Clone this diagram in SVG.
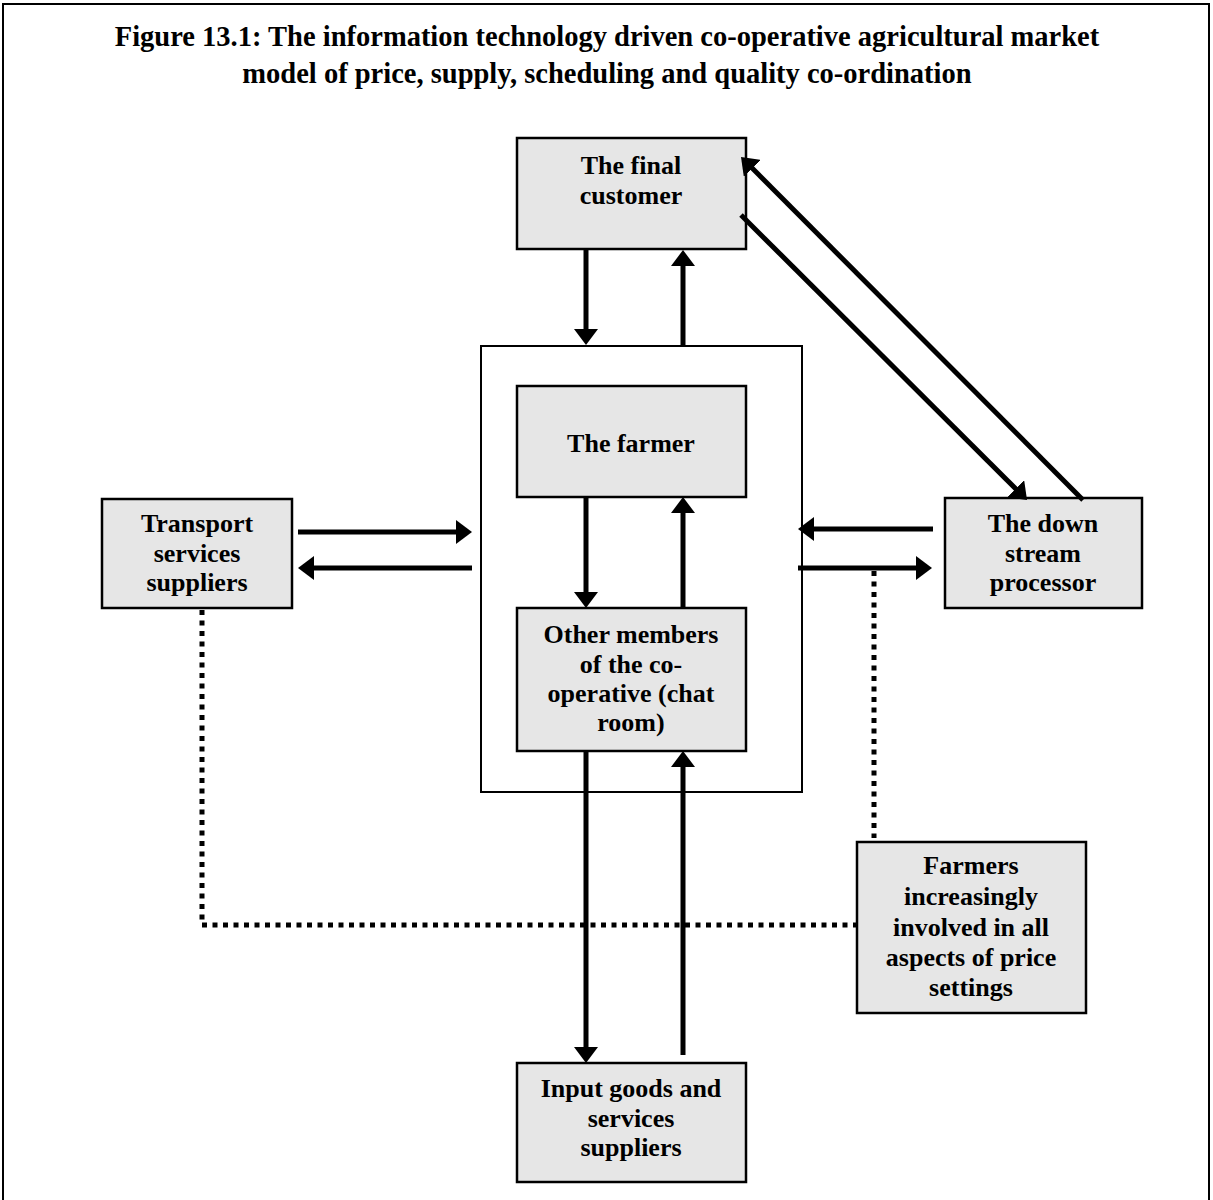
<svg xmlns="http://www.w3.org/2000/svg" width="1213" height="1200" viewBox="0 0 1213 1200">
  <style>
    .frame { fill: none; stroke: #000; stroke-width: 2; }
    .box { fill: #e6e6e6; stroke: #000; stroke-width: 2.5; }
    .lbl { font-family: "Liberation Serif", "Times New Roman", serif; font-weight: bold; font-size: 26px; fill: #000; text-anchor: middle; }
    .title { font-family: "Liberation Serif", "Times New Roman", serif; font-weight: bold; font-size: 28.5px; fill: #000; text-anchor: middle; }
    .arrow { stroke: #000; stroke-width: 5; fill: none; marker-end: url(#head); }
    .dots { stroke: #000; stroke-width: 5; fill: none; stroke-dasharray: 5 5.5; }
  </style>
  <defs>
    <marker id="head" markerUnits="userSpaceOnUse" viewBox="0 0 16 24" refX="1" refY="12" markerWidth="16" markerHeight="24" orient="auto">
      <path d="M0,0 L16,12 L0,24 Z" fill="#000"/>
    </marker>
  </defs>

  <rect width="1213" height="1200" fill="#fff"/>

  <!-- page border -->
  <path class="frame" d="M3,1200 V4 H1209 V1200" stroke-width="2.5"/>

  <!-- title -->
  <text class="title" x="607" y="46">Figure 13.1:  The information technology driven co-operative agricultural market</text>
  <text class="title" x="607" y="83">model of price, supply, scheduling and quality co-ordination</text>

  <!-- co-operative enclosure -->
  <rect id="cooperative" class="frame" x="481" y="346" width="321" height="446"/>

  <g id="final-customer">
    <rect class="box" x="517" y="138" width="229" height="111"/>
    <text class="lbl" x="631" y="174">The final</text>
    <text class="lbl" x="631" y="204">customer</text>
  </g>

  <g id="farmer">
    <rect class="box" x="517" y="386" width="229" height="111"/>
    <text class="lbl" x="631" y="452">The farmer</text>
  </g>

  <g id="other-members">
    <rect class="box" x="517" y="608" width="229" height="143"/>
    <text class="lbl" x="631" y="643">Other members</text>
    <text class="lbl" x="631" y="673">of the co-</text>
    <text class="lbl" x="631" y="702">operative (chat</text>
    <text class="lbl" x="631" y="731">room)</text>
  </g>

  <g id="input-suppliers">
    <rect class="box" x="517" y="1063" width="229" height="119"/>
    <text class="lbl" x="631" y="1097">Input goods and</text>
    <text class="lbl" x="631" y="1127">services</text>
    <text class="lbl" x="631" y="1156">suppliers</text>
  </g>

  <g id="transport">
    <rect class="box" x="102" y="499" width="190" height="109"/>
    <text class="lbl" x="197" y="532">Transport</text>
    <text class="lbl" x="197" y="562">services</text>
    <text class="lbl" x="197" y="591">suppliers</text>
  </g>

  <g id="processor">
    <rect class="box" x="945" y="498" width="197" height="110"/>
    <text class="lbl" x="1043" y="532">The down</text>
    <text class="lbl" x="1043" y="562">stream</text>
    <text class="lbl" x="1043" y="591">processor</text>
  </g>

  <g id="farmers-involved">
    <rect class="box" x="857" y="842" width="229" height="171"/>
    <text class="lbl" x="971" y="874">Farmers</text>
    <text class="lbl" x="971" y="905">increasingly</text>
    <text class="lbl" x="971" y="936">involved in all</text>
    <text class="lbl" x="971" y="966">aspects of price</text>
    <text class="lbl" x="971" y="996">settings</text>
  </g>

  <g id="connectors">
    <!-- final customer <-> co-operative -->
    <line class="arrow" x1="586" y1="249" x2="586" y2="330"/>
    <line class="arrow" x1="683" y1="346" x2="683" y2="265"/>
    <!-- farmer <-> other members -->
    <line class="arrow" x1="586" y1="497" x2="586" y2="593"/>
    <line class="arrow" x1="683" y1="608" x2="683" y2="512"/>
    <!-- other members <-> input suppliers -->
    <line class="arrow" x1="586" y1="751" x2="586" y2="1048"/>
    <line class="arrow" x1="683" y1="1055" x2="683" y2="766"/>
    <!-- transport <-> co-operative -->
    <line class="arrow" x1="298" y1="532" x2="457" y2="532"/>
    <line class="arrow" x1="472" y1="568" x2="313" y2="568"/>
    <!-- processor <-> co-operative -->
    <line class="arrow" x1="933" y1="529" x2="813" y2="529"/>
    <line class="arrow" x1="798" y1="568" x2="917" y2="568"/>
    <!-- final customer <-> processor -->
    <line class="arrow" x1="741" y1="215" x2="1016.4" y2="489.4"/>
    <line class="arrow" x1="1083" y1="500" x2="751.6" y2="167.6"/>
    <!-- price-setting links -->
    <path class="dots" d="M202,610 V925 H857"/>
    <path class="dots" d="M874,571 V838"/>
  </g>
</svg>
